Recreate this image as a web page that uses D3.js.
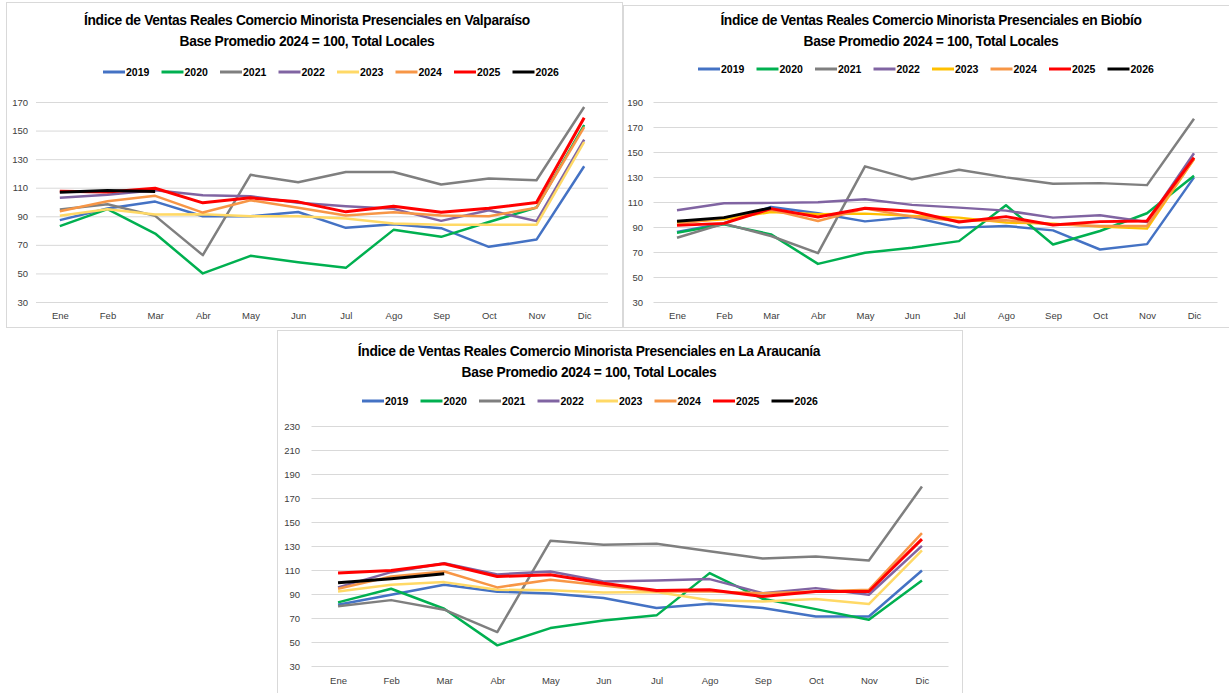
<!DOCTYPE html>
<html>
<head>
<meta charset="utf-8">
<script src="https://cdn.jsdelivr.net/npm/d3@7"></script>
<style>
  body { margin: 0; background: #fff; }
  svg { display: block; font-family: "Liberation Sans", Arial, sans-serif; }
</style>
</head>
<body>
<svg id="chart" width="1229" height="693"></svg>
<script>
// --- data ---
const months = ["Ene", "Feb", "Mar", "Abr", "May", "Jun", "Jul", "Ago", "Sep", "Oct", "Nov", "Dic"];
const years = ["2019", "2020", "2021", "2022", "2023", "2024", "2025", "2026"];

// one row per year, in the order of `years`
const valparaiso = [
    [87.3, 95.4, 100.3, 90, 90, 93, 81.9, 84.4, 81.7, 68.6, 73.7, 125],
    [83.1, 95, 77.9, 50, 62.3, 57.9, 53.9, 80.5, 75.6, 86, 96.1, 153.9],
    [94.7, 98.4, 90.3, 62.8, 119, 113.8, 121, 121, 112.2, 116.4, 115.2, 166.5],
    [102.9, 105, 108.2, 104.7, 104, 99.4, 97, 95.2, 86.8, 94.2, 86.6, 143.7],
    [90.3, 95, 91.2, 91.4, 90, 90, 88.4, 84.9, 84, 84, 84, 142],
    [93.5, 100.5, 104.3, 92.6, 101.2, 96, 90.5, 92.8, 90.5, 90, 96, 152.5],
    [107.5, 107, 109.6, 99.4, 102.9, 100.1, 93.1, 97, 92.8, 95.6, 99.6, 159],
    [106.8, 108, 107.3]
];
const biobio = [
    [86, 93, 106, 101, 94.5, 98, 89.5, 90.8, 87.3, 72, 76.3, 129.7],
    [85.4, 92.1, 84.1, 60.5, 69.4, 73.4, 78.7, 107.4, 76, 86.8, 101, 131],
    [81.4, 92.7, 82.8, 69.1, 138.5, 128.1, 135.8, 129.7, 124.6, 125.1, 123.5, 176.6],
    [103.4, 109, 109.3, 109.8, 112.2, 107.7, 105.5, 103.1, 97.5, 99.4, 94, 149],
    [93.5, 96.2, 102, 100.2, 100.7, 98.9, 97.5, 93.5, 92.7, 90.3, 88.7, 144.4],
    [92.1, 97.5, 103.7, 94.8, 104.7, 98.3, 94.8, 95.4, 92.1, 90.8, 90.8, 144.4],
    [91.3, 92.9, 104.7, 98, 105, 102.6, 94, 98.3, 91.6, 94.3, 94.8, 145.5],
    [94.6, 97.5, 105.3]
];
const araucania = [
    [81, 89.4, 97.7, 91.9, 90.5, 86.6, 78.3, 81.9, 78.3, 71.3, 71.3, 109.6],
    [83, 94.4, 77.7, 47.2, 61.6, 68, 72.2, 107.4, 86, 77.4, 68.5, 101.3],
    [79.7, 84.9, 76.9, 58.3, 134.3, 131, 131.8, 125.7, 119.6, 121.3, 118, 179.5],
    [95.5, 108.2, 115.7, 106.3, 108.8, 100.4, 101.3, 102.4, 90.7, 94.9, 89.4, 130.1],
    [92, 97.7, 99.9, 93.5, 93.2, 91.3, 91.6, 84.7, 83.8, 85.8, 81.6, 126.3],
    [94.3, 104.6, 108.8, 95.5, 101.8, 97, 92.1, 92.1, 90.7, 92.1, 93.5, 140.7],
    [107.4, 109.6, 115.2, 104.6, 106, 99, 93, 93.5, 88, 92.1, 92.1, 135.7],
    [99.3, 102.7, 106.8]
];

const colorsLight = ["#4472C4", "#00B050", "#7F7F7F", "#8064A2", "#FFD966", "#F79646", "#FF0000", "#000000"];
const colorsGold = ["#4472C4", "#00B050", "#7F7F7F", "#8064A2", "#FFC000", "#F79646", "#FF0000", "#000000"];

// --- layout ---
const panels = [
    {
        name: "Valparaíso", data: valparaiso, colors: colorsLight,
        box: [6, 2, 616, 325], x: [36, 608], y: [302, 102], yDomain: [30, 170],
        titleX: 307, titleY: 25, legendX: 103, legendY: 72, labelX: 28, monthY: 321
    },
    {
        name: "Biobío", data: biobio, colors: colorsGold,
        box: [623, 5, 606, 322], x: [653.5, 1217.5], y: [302, 102], yDomain: [30, 190],
        titleX: 931, titleY: 25, legendX: 698, legendY: 69, labelX: 643, monthY: 321
    },
    {
        name: "La Araucanía", data: araucania, colors: colorsLight,
        box: [277, 330, 685, 363], x: [311.5, 948.5], y: [666, 426], yDomain: [30, 230],
        titleX: 589, titleY: 356, legendX: 362, legendY: 401, labelX: 300, monthY: 686
    }
];

const svg = d3.select("#chart");

panels.forEach(p => {
    const g = svg.append("g");

    g.append("rect")
        .attr("x", p.box[0] + 0.5).attr("y", p.box[1] + 0.5)
        .attr("width", p.box[2]).attr("height", p.box[3])
        .attr("fill", "#fff").attr("stroke", "#D9D9D9");

    const x = d3.scalePoint().domain(months).range(p.x).padding(0.5);
    const y = d3.scaleLinear().domain(p.yDomain).range(p.y);

    // title
    const title = g.append("text")
        .attr("x", p.titleX).attr("y", p.titleY)
        .attr("text-anchor", "middle")
        .attr("font-size", 13.8).attr("font-weight", "bold")
        .attr("fill", "#000")
        .style("letter-spacing", "-0.35px");
    title.append("tspan").attr("x", p.titleX)
        .text("Índice de Ventas Reales Comercio Minorista Presenciales en " + p.name);
    title.append("tspan").attr("x", p.titleX).attr("dy", 21)
        .text("Base Promedio 2024 = 100, Total Locales");

    // legend
    const leg = g.append("g").attr("transform", `translate(${p.legendX},${p.legendY})`);
    years.forEach((yr, i) => {
        const li = leg.append("g").attr("transform", `translate(${i * 58.5},0)`);
        li.append("line").attr("x1", 0).attr("x2", 22).attr("y1", 0).attr("y2", 0)
            .attr("stroke", p.colors[i]).attr("stroke-width", 3);
        li.append("text").attr("x", 23).attr("y", 4)
            .attr("font-size", 10.5).attr("font-weight", "bold").attr("fill", "#000")
            .text(yr);
    });

    // y grid + labels
    const ticks = d3.range(p.yDomain[0], p.yDomain[1] + 1, 20);
    const yAxis = d3.axisLeft(y).tickValues(ticks)
        .tickSize(-(p.x[1] - p.x[0])).tickPadding(p.x[0] - p.labelX);
    const ya = g.append("g").attr("transform", `translate(${p.x[0]},0)`).call(yAxis);
    ya.select(".domain").remove();
    ya.selectAll(".tick line").attr("stroke", "#D9D9D9").attr("stroke-width", 1);
    ya.selectAll(".tick text").attr("font-size", 9.5).attr("fill", "#404040")
        .attr("font-family", "Liberation Sans, Arial, sans-serif");

    // x labels
    const xAxis = d3.axisBottom(x).tickSize(0).tickPadding(0);
    const xa = g.append("g").attr("transform", `translate(0,${p.monthY - 9})`).call(xAxis);
    xa.select(".domain").remove();
    xa.selectAll(".tick text").attr("font-size", 9.5).attr("fill", "#404040")
        .attr("font-family", "Liberation Sans, Arial, sans-serif");

    // lines
    const line = d3.line()
        .x((d, i) => x(months[i]))
        .y(d => y(d));
    p.data.forEach((series, i) => {
        g.append("path")
            .datum(series)
            .attr("fill", "none")
            .attr("stroke", p.colors[i])
            .attr("stroke-width", i >= 6 ? 3 : 2.5)
            .attr("stroke-linejoin", "round")
            .attr("d", line);
    });
});
</script>
</body>
</html>
